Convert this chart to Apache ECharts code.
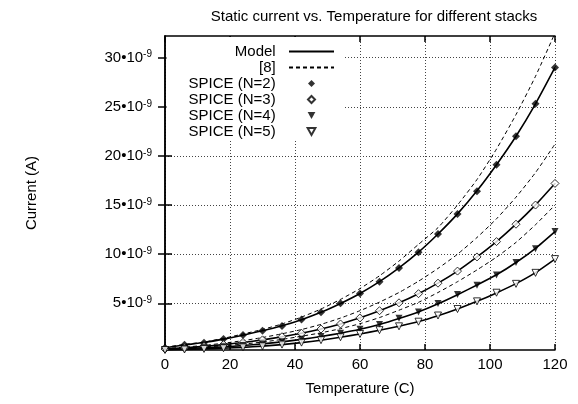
<!DOCTYPE html>
<html>
<head>
<meta charset="utf-8">
<script src="https://cdn.jsdelivr.net/npm/echarts@6/dist/echarts.min.js"></script>
<style>html,body{margin:0;padding:0;background:#fff}#c{width:578px;height:404px}</style>
</head>
<body>
<div id="c"></div>
<script>
// Temperatures (C)
const temps = [0, 6, 12, 18, 24, 30, 36, 42, 48, 54, 60, 66, 72, 78, 84, 90, 96, 102, 108, 114, 120];
// SPICE simulation points (units of 1e-9 A)
const spiceN2 = [0.49, 0.79, 1.0, 1.37, 1.78, 2.2, 2.7, 3.35, 4.1, 5.0, 6.0, 7.2, 8.6, 10.2, 12.05, 14.1, 16.4, 19.1, 22.0, 25.3, 29.0];
const spiceN3 = [0.35, 0.47, 0.62, 0.8, 1.02, 1.28, 1.6, 1.95, 2.38, 2.9, 3.52, 4.25, 5.05, 5.98, 7.05, 8.28, 9.72, 11.28, 13.05, 15.0, 17.2];
const spiceN4 = [0.3, 0.38, 0.47, 0.57, 0.7, 0.86, 1.08, 1.34, 1.62, 1.95, 2.36, 2.85, 3.47, 4.12, 4.97, 5.9, 6.85, 7.88, 9.15, 10.55, 12.3];
const spiceN5 = [0.25, 0.3, 0.36, 0.43, 0.52, 0.63, 0.8, 1.0, 1.25, 1.55, 1.88, 2.27, 2.66, 3.13, 3.76, 4.42, 5.2, 6.08, 6.98, 8.1, 9.5];
// Model curves (solid)
const modelN2 = [0.48, 0.76, 1.02, 1.36, 1.76, 2.2, 2.72, 3.34, 4.08, 4.98, 6.0, 7.2, 8.6, 10.2, 12.05, 14.1, 16.45, 19.1, 22.0, 25.3, 29.0];
const modelN3 = [0.35, 0.47, 0.62, 0.8, 1.02, 1.28, 1.6, 1.96, 2.39, 2.9, 3.52, 4.24, 5.05, 5.98, 7.05, 8.28, 9.72, 11.28, 13.05, 15.02, 17.2];
const modelN4 = [0.3, 0.38, 0.47, 0.57, 0.7, 0.87, 1.08, 1.33, 1.62, 1.96, 2.36, 2.85, 3.45, 4.12, 4.95, 5.88, 6.86, 7.9, 9.15, 10.6, 12.3];
const modelN5 = [0.25, 0.3, 0.36, 0.43, 0.52, 0.64, 0.8, 1.0, 1.25, 1.55, 1.88, 2.26, 2.67, 3.14, 3.74, 4.42, 5.2, 6.06, 7.0, 8.12, 9.5];
// Reference [8] curves (dashed)
const ref8N2 = [0.52, 0.82, 1.06, 1.44, 1.88, 2.34, 2.9, 3.6, 4.42, 5.4, 6.5, 7.8, 9.3, 11.0, 12.7, 15.0, 17.6, 20.7, 24.2, 28.1, 32.5];
const ref8N3 = [0.4, 0.54, 0.72, 0.94, 1.2, 1.52, 1.9, 2.33, 2.86, 3.5, 4.25, 5.12, 6.1, 7.25, 8.55, 10.0, 11.7, 13.6, 15.8, 18.3, 21.2];
const ref8N4 = [0.33, 0.43, 0.55, 0.68, 0.85, 1.06, 1.33, 1.65, 2.0, 2.42, 2.93, 3.55, 4.3, 5.1, 6.1, 7.2, 8.4, 9.7, 11.2, 13.0, 15.0];
// Axis ticks
const xTicks = [0, 20, 40, 60, 80, 100, 120];
const yTicks = [5, 10, 15, 20, 25, 30];
const legendNames = ['Model', '[8]', 'SPICE (N=2)', 'SPICE (N=3)', 'SPICE (N=4)', 'SPICE (N=5)'];

const pts = arr => temps.map((t, i) => [t, arr[i]]);
const FONT = 'Liberation Sans, Arial, sans-serif';
const triDown = 'path://M0,0 L10,0 L5,9 Z';
const diamond = 'path://M5,0 L10,5 L5,10 L0,5 Z';

function modelSeries(arr) {
  return { name: 'Model', type: 'line', data: pts(arr), symbol: 'none', showSymbol: false,
    smooth: 0.2, clip: true, lineStyle: { color: '#000', width: 1.6 }, itemStyle: { color: '#000' }, z: 3 };
}
function refSeries(arr) {
  return { name: '[8]', type: 'line', data: pts(arr), symbol: 'none', showSymbol: false,
    smooth: 0.2, clip: true, lineStyle: { color: '#000', width: 1, type: [4, 3] }, itemStyle: { color: '#000' }, z: 3 };
}
function spiceSeries(name, arr, symbol, size, filled) {
  return { name, type: 'scatter', data: pts(arr), symbol, symbolSize: size,
    itemStyle: filled ? { color: '#000' } : { color: '#fff', borderColor: '#000', borderWidth: 1 }, z: 4 };
}

const axisLineStyle = { color: '#000', width: 1.5 };
const gridLine = { show: true, lineStyle: { color: '#444', width: 1, type: [1, 2] } };
const hiddenSym = { color: 'rgba(0,0,0,0)', borderColor: 'rgba(0,0,0,0)', borderWidth: 0, opacity: 0 };

const chart = echarts.init(document.getElementById('c'), null, { renderer: 'canvas' });
chart.setOption({
  animation: false,
  backgroundColor: '#fff',
  textStyle: { fontFamily: FONT },
  title: { text: 'Static current vs. Temperature for different stacks', left: 369, top: 4, textAlign: 'center',
    textStyle: { fontSize: 15, fontWeight: 'normal', color: '#000', fontFamily: FONT } },
  grid: { left: 165, right: 23, top: 36, bottom: 54, containLabel: false },
  legend: {
    data: legendNames.map((n, i) => i < 2 ? { name: n, itemStyle: hiddenSym } : { name: n }),
    orient: 'vertical', align: 'right', right: 235, top: 37,
    padding: [6.5, 8, 0, 22], itemGap: 0, itemWidth: 45, itemHeight: 7,
    backgroundColor: '#fff', formatter: '{name}  ',
    textStyle: { fontSize: 15, color: '#000', lineHeight: 16, fontFamily: FONT }
  },
  xAxis: [
    { type: 'value', min: 0, max: 120, interval: 20, position: 'bottom',
      axisLine: { lineStyle: axisLineStyle }, axisTick: { inside: true, length: 6, lineStyle: axisLineStyle },
      axisLabel: { color: '#000', fontSize: 15, margin: 7, fontFamily: FONT }, splitLine: gridLine,
      name: 'Temperature (C)', nameLocation: 'middle', nameGap: 31,
      nameTextStyle: { fontSize: 15, color: '#000', fontFamily: FONT } },
    { type: 'value', min: 0, max: 120, interval: 20, position: 'top',
      axisLine: { lineStyle: axisLineStyle }, axisTick: { inside: true, length: 6, lineStyle: axisLineStyle },
      axisLabel: { show: false }, splitLine: { show: false } }
  ],
  yAxis: [
    { type: 'value', min: 0.25, max: 32.2, position: 'left',
      axisLine: { lineStyle: axisLineStyle },
      axisTick: { inside: true, length: 7, lineStyle: axisLineStyle, customValues: yTicks },
      axisLabel: { customValues: yTicks, margin: 13, color: '#000',
        formatter: v => '{b|' + v + '•10}{s|-9}',
        rich: { b: { fontSize: 15, lineHeight: 16, color: '#000', fontFamily: FONT },
                s: { fontSize: 10, lineHeight: 16, verticalAlign: 'top', color: '#000', fontFamily: FONT } } },
      splitLine: gridLine,
      name: 'Current (A)', nameLocation: 'middle', nameGap: 126,
      nameTextStyle: { fontSize: 15, color: '#000', fontFamily: FONT } },
    { type: 'value', min: 0.25, max: 32.2, position: 'right',
      axisLine: { lineStyle: axisLineStyle },
      axisTick: { inside: true, length: 7, lineStyle: axisLineStyle, customValues: yTicks },
      axisLabel: { show: false }, splitLine: { show: false } }
  ],
  series: [
    modelSeries(modelN2), modelSeries(modelN3), modelSeries(modelN4), modelSeries(modelN5),
    refSeries(ref8N2), refSeries(ref8N3), refSeries(ref8N4),
    spiceSeries('SPICE (N=2)', spiceN2, diamond, 8, true),
    spiceSeries('SPICE (N=3)', spiceN3, diamond, 8, false),
    spiceSeries('SPICE (N=4)', spiceN4, triDown, 7, true),
    spiceSeries('SPICE (N=5)', spiceN5, triDown, 7, false)
  ]
});
</script>
</body>
</html>
